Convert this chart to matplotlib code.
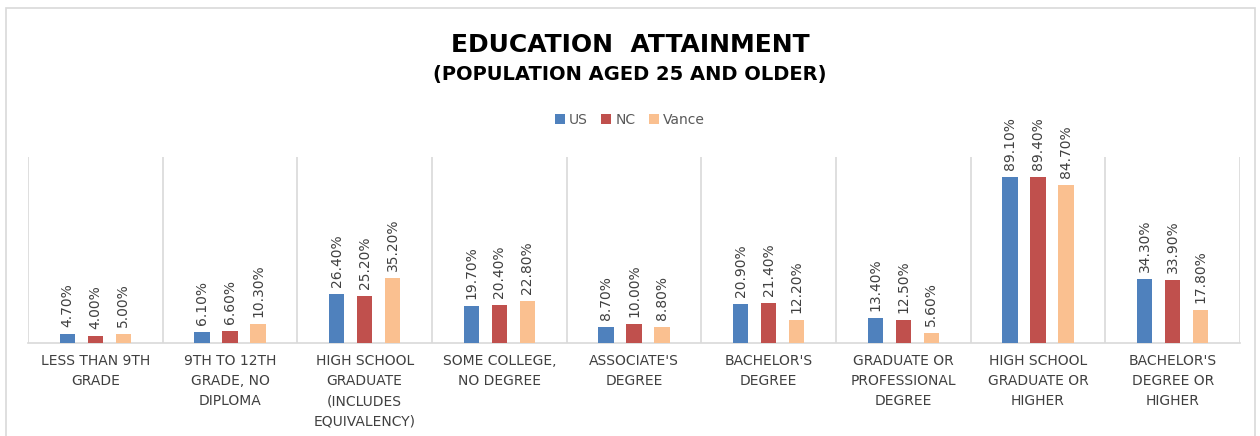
import matplotlib
matplotlib.use("Agg")
import matplotlib.pyplot as plt
from matplotlib.patches import Rectangle
import numpy as np

matplotlib.rcParams["font.family"] = ["DejaVu Sans"]

# Data
categories = [
    "LESS THAN 9TH\nGRADE",
    "9TH TO 12TH\nGRADE, NO\nDIPLOMA",
    "HIGH SCHOOL\nGRADUATE\n(INCLUDES\nEQUIVALENCY)",
    "SOME COLLEGE,\nNO DEGREE",
    "ASSOCIATE'S\nDEGREE",
    "BACHELOR'S\nDEGREE",
    "GRADUATE OR\nPROFESSIONAL\nDEGREE",
    "HIGH SCHOOL\nGRADUATE OR\nHIGHER",
    "BACHELOR'S\nDEGREE OR\nHIGHER",
]
us = [4.7, 6.1, 26.4, 19.7, 8.7, 20.9, 13.4, 89.1, 34.3]
nc = [4.0, 6.6, 25.2, 20.4, 10.0, 21.4, 12.5, 89.4, 33.9]
vance = [5.0, 10.3, 35.2, 22.8, 8.8, 12.2, 5.6, 84.7, 17.8]
series_names = ["US", "NC", "Vance"]
colors = ["#4F81BD", "#C0504D", "#FAC090"]

fig = plt.figure(figsize=(12.6, 4.36), dpi=100)
fig.patch.set_facecolor("white")
ax = fig.add_axes([0.0222, 0.2133, 0.9619, 0.4267])

x = np.arange(len(categories))
width = 0.115
offset = 0.208

for i, (vals, name, col) in enumerate(zip([us, nc, vance], series_names, colors)):
    bars = ax.bar(x + (i - 1) * offset, vals, width, color=col, label=name, zorder=3)
    for bar, v in zip(bars, vals):
        ax.annotate(
            f"{v:.2f}%",
            xy=(bar.get_x() + bar.get_width() / 2, bar.get_height()),
            xytext=(0, 5), textcoords="offset points",
            rotation=90, ha="center", va="bottom",
            fontsize=10, color="#404040",
        )

# separators between categories
for b in np.arange(len(categories) + 1) - 0.5:
    ax.axvline(b, color="#d9d9d9", linewidth=1.2, zorder=1)

ax.set_xlim(-0.5, len(categories) - 0.5)
ax.set_ylim(0, 100)
ax.set_yticks([])
ax.set_xticks(x)
ax.set_xticklabels(categories, fontsize=10, color="#404040", linespacing=1.55)
ax.tick_params(axis="x", length=0, pad=8)
for s in ["top", "right", "left"]:
    ax.spines[s].set_visible(False)
ax.spines["bottom"].set_color("#d9d9d9")
ax.spines["bottom"].set_linewidth(1.2)

# titles
fig.text(0.5, 0.897, "EDUCATION  ATTAINMENT", ha="center", va="center",
         fontsize=18, fontweight="bold", color="black")
fig.text(0.5, 0.828, "(POPULATION AGED 25 AND OLDER)", ha="center", va="center",
         fontsize=14, fontweight="bold", color="black")

leg = fig.legend(
    loc="center", bbox_to_anchor=(0.5, 0.725), ncol=3, frameon=False,
    fontsize=10, handlelength=0.7, handleheight=0.7, handletextpad=0.3,
    columnspacing=1.0, labelcolor="#595959",
)

# outer chart border
fig.patches.append(Rectangle((0.005, -0.01), 0.991, 0.992, transform=fig.transFigure,
                             fill=False, edgecolor="#d9d9d9", linewidth=1.2))

fig.savefig("out.png", dpi=100, facecolor="white")
